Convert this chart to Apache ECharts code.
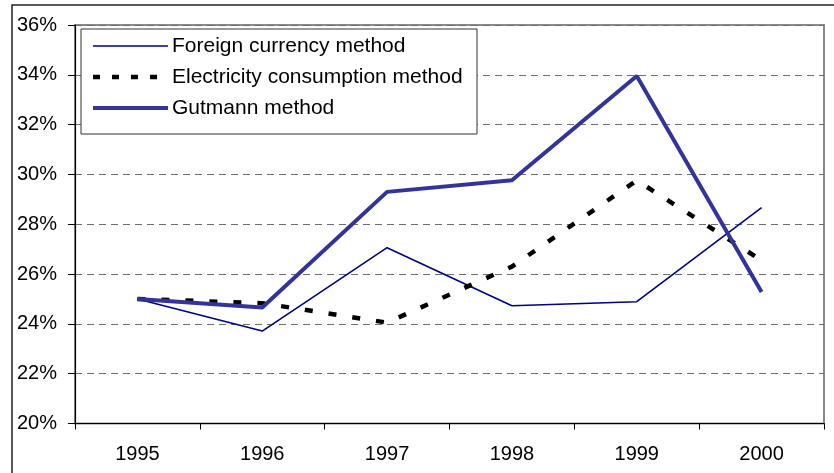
<!DOCTYPE html>
<html>
<head>
<meta charset="utf-8">
<script src="https://cdn.jsdelivr.net/npm/echarts@6/dist/echarts.min.js"></script>
<style>
html,body{margin:0;padding:0;background:#fff;}
#chart{width:834px;height:473px;}
</style>
</head>
<body>
<div id="chart"></div>
<script>
var years = ['1995','1996','1997','1998','1999','2000'];
var foreignCurrency = [25.0, 23.71, 27.06, 24.73, 24.89, 28.67];
var electricity = [25.0, 24.83, 24.05, 26.3, 29.76, 26.55];
var gutmann = [25.0, 24.66, 29.3, 29.77, 33.95, 25.28];
var seriesNames = ['Foreign currency method', 'Electricity consumption method', 'Gutmann method'];

var FONT = '"Liberation Sans", Arial, sans-serif';
var styles = [
  {color: '#000080', width: 1.6, type: 'solid'},
  {color: '#000000', width: 4.5, type: [8, 16]},
  {color: '#333399', width: 4, type: 'solid'}
];
var legendRows = [46, 77, 108];

var chart = echarts.init(document.getElementById('chart'));
var graphics = [
  {type: 'rect', shape: {x: 81, y: 29, width: 396, height: 105}, style: {fill: '#fff', stroke: '#333', lineWidth: 1}, z: 100},
  {type: 'rect', shape: {x: 12, y: 5, width: 900, height: 600}, style: {fill: 'none', stroke: '#222', lineWidth: 1.5}, z: 1, silent: true}
];
legendRows.forEach(function(y, i){
  graphics.push({type: 'line', shape: {x1: 93, y1: y, x2: 168, y2: y}, z: 150,
    style: {stroke: styles[i].color, lineWidth: styles[i].width, lineDash: styles[i].type === 'solid' ? null : [7, 12]}});
});

chart.setOption({
  animation: false,
  backgroundColor: '#fff',
  grid: {left: 75, right: 10, top: 25, bottom: 49.5, show: true, borderColor: '#8a8a8a', borderWidth: 2, backgroundColor: 'transparent'},
  xAxis: {
    type: 'category', data: years, boundaryGap: true,
    axisLine: {show: true, lineStyle: {color: '#000', width: 1.2}},
    axisTick: {show: true, inside: false, length: 6, lineStyle: {color: '#000', width: 1}},
    axisLabel: {color: '#000', fontFamily: FONT, fontSize: 20, margin: 21},
    splitLine: {show: false}
  },
  yAxis: {
    type: 'value', min: 20, max: 36, interval: 2,
    axisLine: {show: true, lineStyle: {color: '#000', width: 1.2}},
    axisTick: {show: true, inside: false, length: 7, lineStyle: {color: '#000', width: 1}},
    axisLabel: {color: '#000', fontFamily: FONT, fontSize: 20, margin: 18, formatter: function(v){return v + '%';}},
    splitLine: {show: true, lineStyle: {color: '#6e6e6e', width: 1, type: [7, 5]}}
  },
  legend: {
    orient: 'vertical', left: 93, top: 35.5, padding: 0, z: 200,
    icon: 'rect', itemWidth: 74, itemHeight: 21, itemGap: 10,
    itemStyle: {color: 'rgba(0,0,0,0)', borderWidth: 0, opacity: 0},
    lineStyle: {opacity: 0},
    textStyle: {color: '#000', fontFamily: FONT, fontSize: 21, lineHeight: 21},
    data: seriesNames
  },
  graphic: {elements: graphics},
  series: [
    {name: seriesNames[0], type: 'line', data: foreignCurrency, symbol: 'none', z: 3,
     lineStyle: {color: styles[0].color, width: styles[0].width}, itemStyle: {color: styles[0].color}},
    {name: seriesNames[1], type: 'line', data: electricity, symbol: 'none', z: 4,
     lineStyle: {color: styles[1].color, width: styles[1].width, type: styles[1].type}, itemStyle: {color: styles[1].color}},
    {name: seriesNames[2], type: 'line', data: gutmann, symbol: 'none', z: 5,
     lineStyle: {color: styles[2].color, width: styles[2].width}, itemStyle: {color: styles[2].color}}
  ]
});
</script>
</body>
</html>
